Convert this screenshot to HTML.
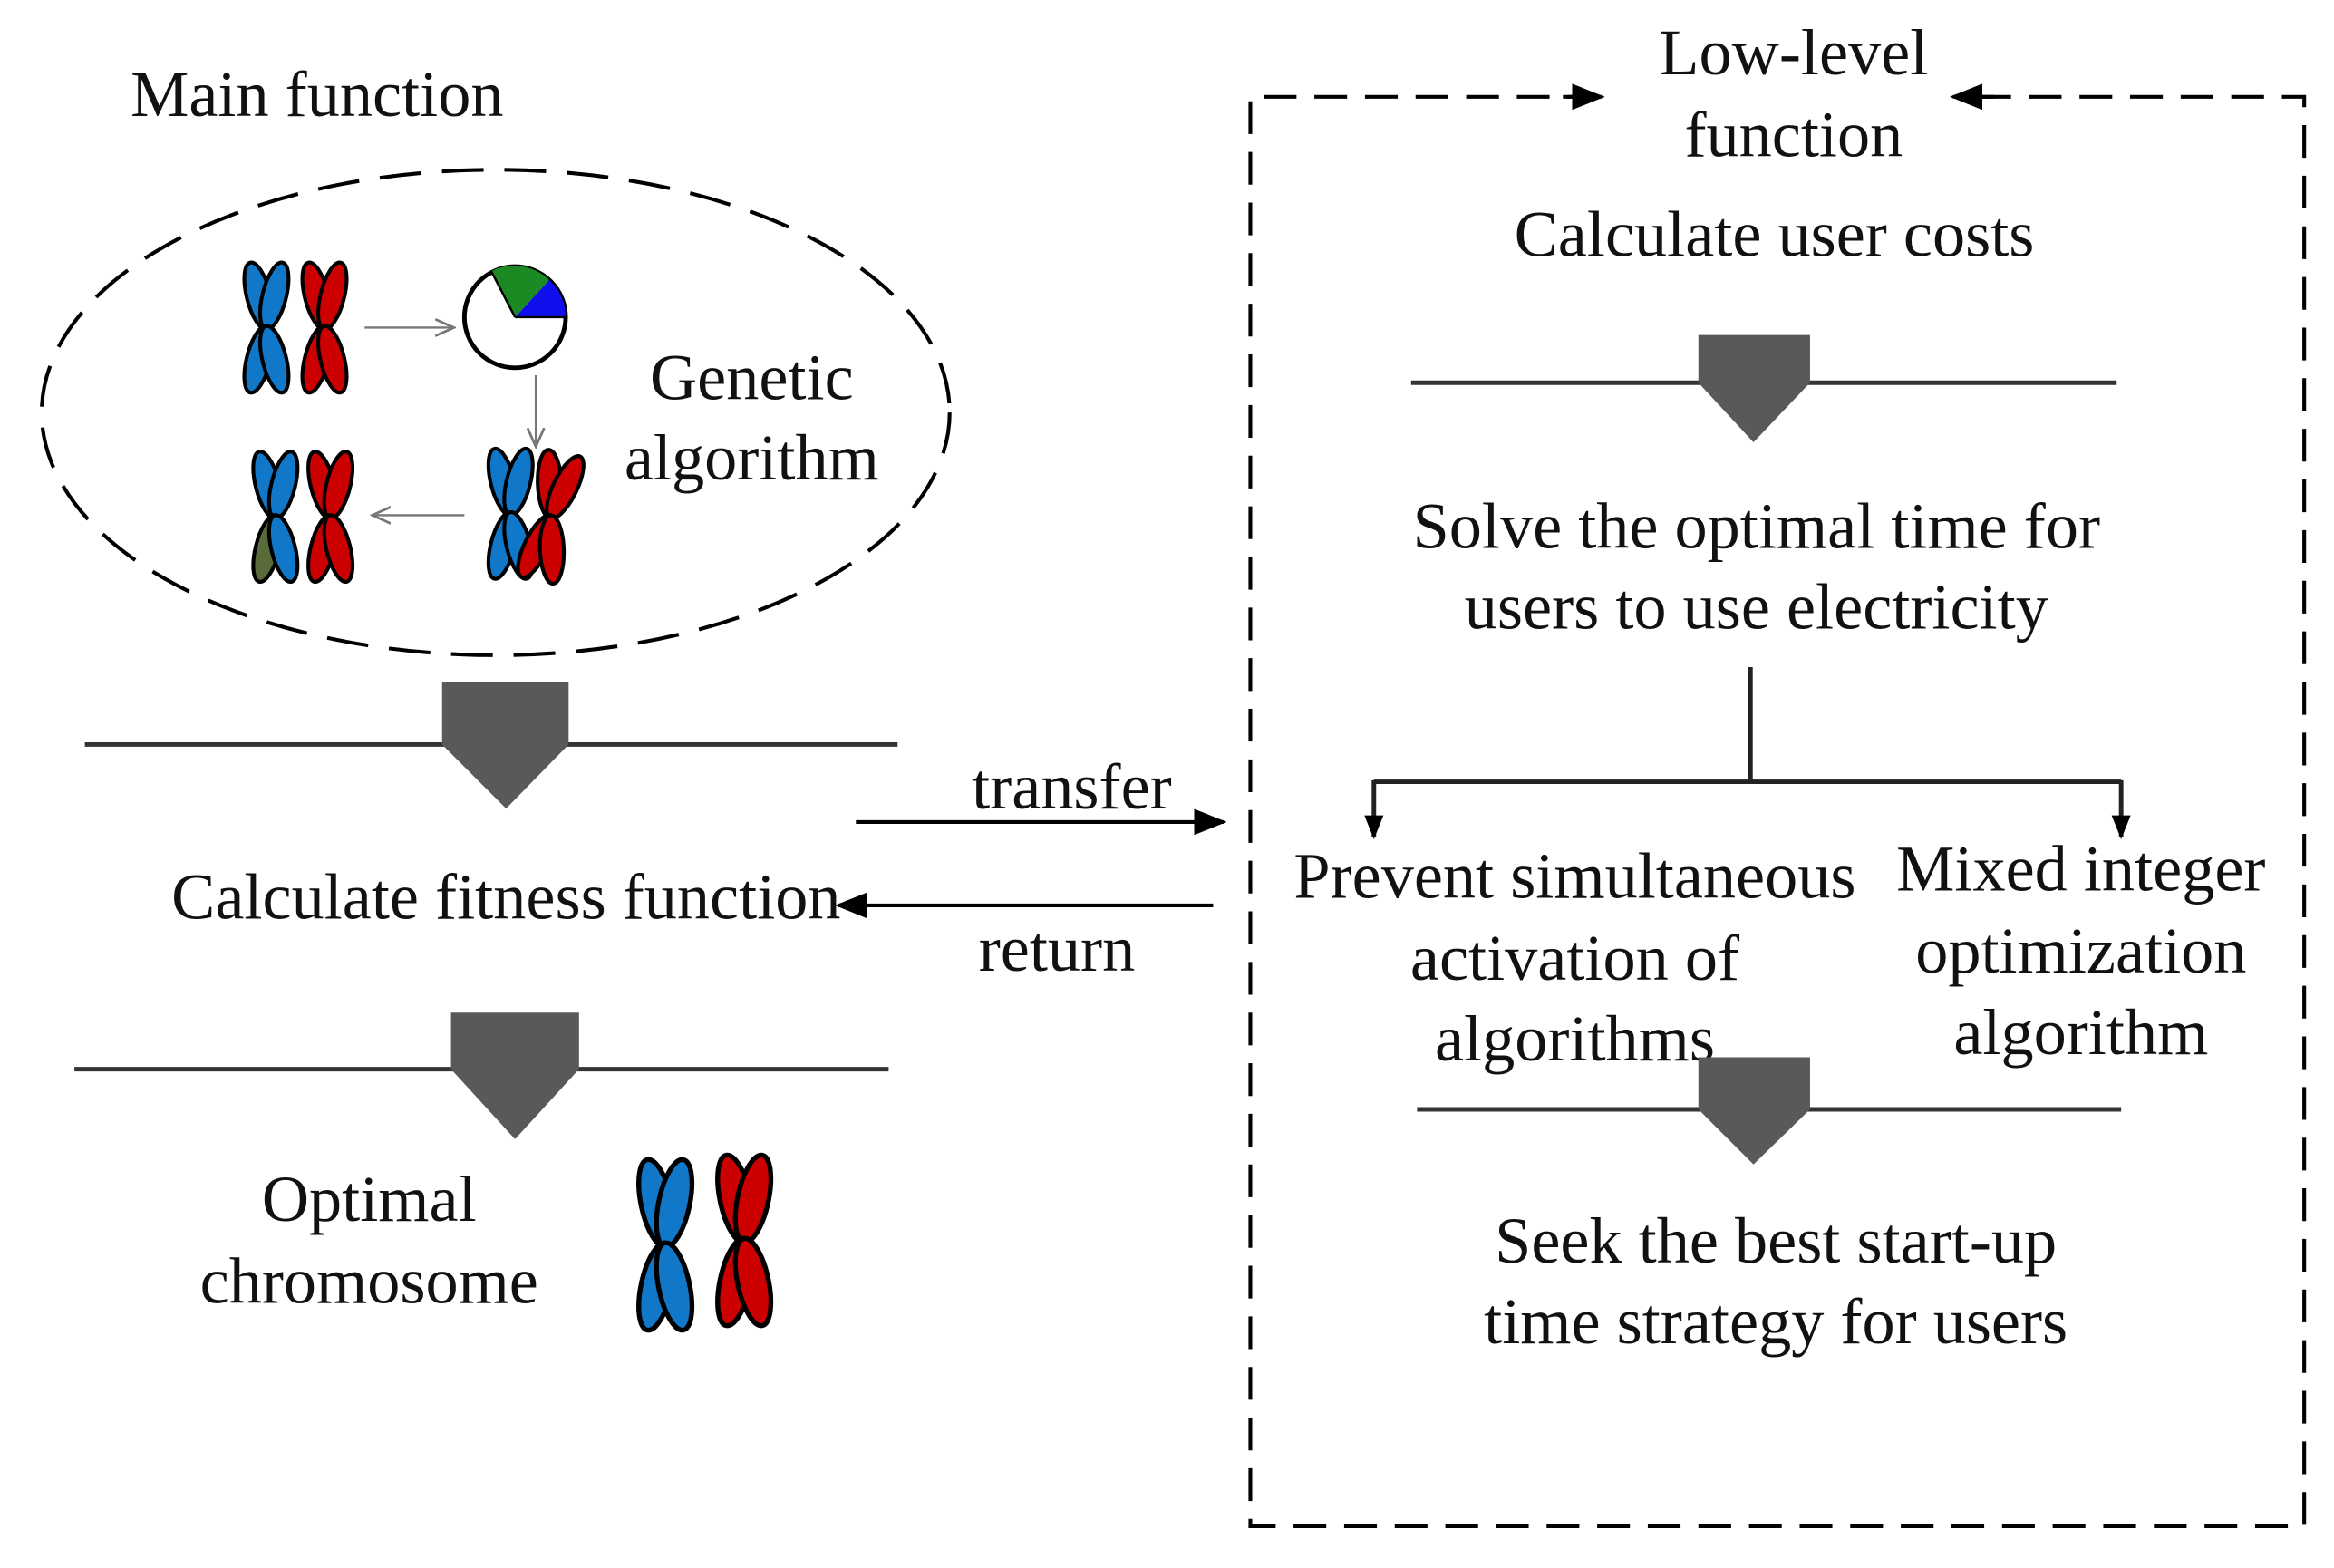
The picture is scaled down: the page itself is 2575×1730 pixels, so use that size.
<!DOCTYPE html>
<html><head><meta charset="utf-8"><style>
html,body{margin:0;padding:0;background:#fff;}
svg{display:block;}
text{font-family:"Liberation Serif",serif;font-size:44px;fill:#111;text-anchor:middle;}
</style></head><body>
<svg width="2575" height="1730" viewBox="0 0 1568 1053" preserveAspectRatio="none" xmlns="http://www.w3.org/2000/svg">
<defs>
<marker id="ah" viewBox="0 0 10 10" refX="9" refY="5" markerWidth="16" markerHeight="16" markerUnits="userSpaceOnUse" orient="auto"><path d="M0,1 L10,5 L0,9 z" fill="#000"/></marker>
<marker id="ahb" viewBox="0 0 10 10" refX="9" refY="5" markerWidth="22" markerHeight="22" markerUnits="userSpaceOnUse" orient="auto"><path d="M0,1 L10,5 L0,9 z" fill="#000"/></marker>
<marker id="ahs" viewBox="0 0 10 10" refX="9" refY="5" markerWidth="14" markerHeight="14" markerUnits="userSpaceOnUse" orient="auto"><path d="M0,1 L9,5 L0,9" fill="none" stroke="#777" stroke-width="1.2"/></marker>
<g id="lobe"><ellipse cx="0" cy="-22" rx="8" ry="23" stroke="#000" stroke-width="2.5"/></g>
</defs>

<text x="213" y="78">Main function</text>
<ellipse cx="333" cy="277" rx="305" ry="163" fill="none" stroke="#000" stroke-width="2.5" stroke-dasharray="28,14"/>

<g transform="translate(179,220)">
 <use href="#lobe" transform="rotate(-14)" fill="#1177c9"/><use href="#lobe" transform="rotate(14)" fill="#1177c9"/>
 <use href="#lobe" transform="rotate(194)" fill="#1177c9"/><use href="#lobe" transform="rotate(166)" fill="#1177c9"/>
</g>
<g transform="translate(218,220)">
 <use href="#lobe" transform="rotate(-14)" fill="#c00"/><use href="#lobe" transform="rotate(14)" fill="#c00"/>
 <use href="#lobe" transform="rotate(194)" fill="#c00"/><use href="#lobe" transform="rotate(166)" fill="#c00"/>
</g>
<line x1="245" y1="220" x2="305" y2="220" stroke="#777" stroke-width="1.5" marker-end="url(#ahs)"/>
<circle cx="346" cy="213" r="34" fill="#fff" stroke="#000" stroke-width="3"/>
<path d="M346,213 L330,182 A34,34 0 0 1 369,188 z" fill="#1c8a22"/>
<path d="M346,213 L369,188 A34,34 0 0 1 380,213 z" fill="#1010ee"/>
<path d="M346,213 L330,182 M346,213 L380,213" stroke="#000" stroke-width="1.5"/>
<line x1="360" y1="252" x2="360" y2="300" stroke="#777" stroke-width="1.5" marker-end="url(#ahs)"/>
<g transform="translate(343,345)">
 <use href="#lobe" transform="rotate(-14)" fill="#1177c9"/><use href="#lobe" transform="rotate(14)" fill="#1177c9"/>
 <use href="#lobe" transform="rotate(194)" fill="#1177c9"/><use href="#lobe" transform="rotate(166)" fill="#1177c9"/>
</g>
<g transform="translate(370,347) rotate(12)">
 <use href="#lobe" transform="rotate(-14)" fill="#c00"/><use href="#lobe" transform="rotate(14)" fill="#c00"/>
 <use href="#lobe" transform="rotate(194)" fill="#c00"/><use href="#lobe" transform="rotate(166)" fill="#c00"/>
</g>
<line x1="312" y1="346" x2="250" y2="346" stroke="#777" stroke-width="1.5" marker-end="url(#ahs)"/>
<g transform="translate(185,347)">
 <use href="#lobe" transform="rotate(-14)" fill="#1177c9"/><use href="#lobe" transform="rotate(14)" fill="#1177c9"/>
 <use href="#lobe" transform="rotate(194)" fill="#5a6b3a"/><use href="#lobe" transform="rotate(166)" fill="#1177c9"/>
</g>
<g transform="translate(222,347)">
 <use href="#lobe" transform="rotate(-14)" fill="#c00"/><use href="#lobe" transform="rotate(14)" fill="#c00"/>
 <use href="#lobe" transform="rotate(194)" fill="#c00"/><use href="#lobe" transform="rotate(166)" fill="#c00"/>
</g>
<text x="505" y="268">Genetic</text>
<text x="505" y="322">algorithm</text>

<line x1="57" y1="500" x2="603" y2="500" stroke="#333" stroke-width="3"/>
<path d="M297,458 H382 V500 L340,543 L297,500 z" fill="#595959"/>
<text x="340" y="617">Calculate fitness function</text>
<line x1="50" y1="718" x2="597" y2="718" stroke="#333" stroke-width="3"/>
<path d="M303,680 H389 V718 L346,765 L303,718 z" fill="#595959"/>
<text x="248" y="820">Optimal</text>
<text x="248" y="875">chromosome</text>
<g transform="translate(447,836) scale(1.3)">
 <use href="#lobe" transform="rotate(-12)" fill="#1177c9"/><use href="#lobe" transform="rotate(12)" fill="#1177c9"/>
 <use href="#lobe" transform="rotate(192)" fill="#1177c9"/><use href="#lobe" transform="rotate(168)" fill="#1177c9"/>
</g>
<g transform="translate(500,833) scale(1.3)">
 <use href="#lobe" transform="rotate(-12)" fill="#c00"/><use href="#lobe" transform="rotate(12)" fill="#c00"/>
 <use href="#lobe" transform="rotate(192)" fill="#c00"/><use href="#lobe" transform="rotate(168)" fill="#c00"/>
</g>

<line x1="575" y1="552" x2="822" y2="552" stroke="#000" stroke-width="2.5" marker-end="url(#ahb)"/>
<text x="720" y="543">transfer</text>
<line x1="815" y1="608" x2="563" y2="608" stroke="#000" stroke-width="2.5" marker-end="url(#ahb)"/>
<text x="710" y="652">return</text>

<path d="M1075,65 H840 V1025 H1548 V65 H1313" fill="none" stroke="#000" stroke-width="2.5" stroke-dasharray="22,12"/>
<line x1="1050" y1="65" x2="1076" y2="65" stroke="#000" stroke-width="2.5" marker-end="url(#ahb)"/>
<line x1="1340" y1="65" x2="1312" y2="65" stroke="#000" stroke-width="2.5" marker-end="url(#ahb)"/>
<text x="1205" y="50">Low-level</text>
<text x="1205" y="105">function</text>
<text x="1192" y="172">Calculate user costs</text>
<line x1="948" y1="257" x2="1422" y2="257" stroke="#333" stroke-width="3"/>
<path d="M1141,225 H1216 V257 L1178,297 L1141,257 z" fill="#595959"/>
<text x="1180" y="368">Solve the optimal time for</text>
<text x="1180" y="422">users to use electricity</text>
<path d="M1176,448 V525 M923,525 H1425" stroke="#222" stroke-width="3" fill="none"/>
<line x1="923" y1="524" x2="923" y2="562" stroke="#222" stroke-width="3" marker-end="url(#ah)"/>
<line x1="1425" y1="524" x2="1425" y2="562" stroke="#222" stroke-width="3" marker-end="url(#ah)"/>
<text x="1058" y="603">Prevent simultaneous</text>
<text x="1058" y="658">activation of</text>
<text x="1058" y="712">algorithms</text>
<text x="1398" y="598">Mixed integer</text>
<text x="1398" y="653">optimization</text>
<text x="1398" y="708">algorithm</text>
<line x1="952" y1="745" x2="1425" y2="745" stroke="#333" stroke-width="3"/>
<path d="M1141,710 H1216 V745 L1178,782 L1141,745 z" fill="#595959"/>
<text x="1193" y="848">Seek the best start-up</text>
<text x="1193" y="902">time strategy for users</text>
</svg>
</body></html>
